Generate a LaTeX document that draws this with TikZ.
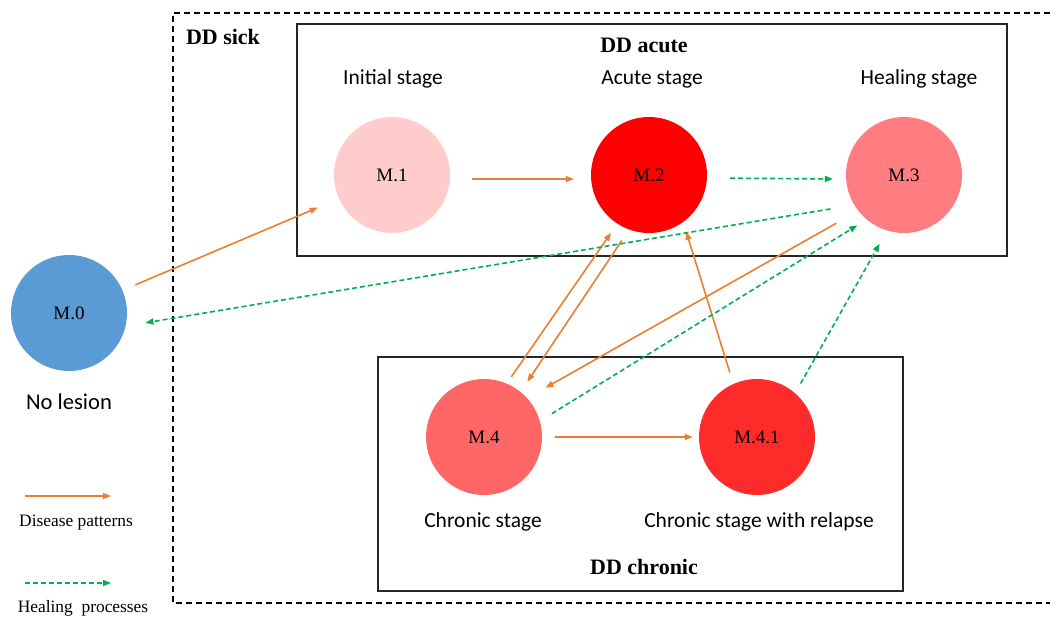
\documentclass[tikz,border=0pt]{standalone}
\usepackage{fontspec}
\setmainfont{Liberation Serif}
\newfontfamily\carl{Carlito}
\usetikzlibrary{arrows.meta}
\definecolor{cblue}{HTML}{5B9BD5}
\definecolor{c1}{HTML}{FFCCCC}
\definecolor{c2}{HTML}{FF0000}
\definecolor{c3}{HTML}{FF7C80}
\definecolor{c4}{HTML}{FF6666}
\definecolor{c41}{HTML}{FF2B2B}
\definecolor{corange}{HTML}{ED7D31}
\definecolor{cgreen}{HTML}{00B050}
\tikzset{
  state/.style={circle,minimum size=116pt,inner sep=0pt,font=\fontsize{19}{21}\selectfont},
  lbl/.style={font=\carl\fontsize{21.5}{23}\selectfont},
  ttl/.style={font=\bfseries\fontsize{22}{24}\selectfont},
  dis/.style={draw=corange,line width=1.6pt,-{Triangle[length=8pt,width=6pt]}},
  heal/.style={draw=cgreen,line width=1.6pt,dash pattern=on 5pt off 3pt,-{Triangle[length=8pt,width=6pt]}},
  frame/.style={draw=black!85,line width=1.8pt}
}
\begin{document}
\begin{tikzpicture}[x=1pt,y=-1pt]
\useasboundingbox[fill=white] (0,0) rectangle (1050,619);
% outer dashed frame
\draw[line width=1.6pt,dash pattern=on 6pt off 4pt] (1050,13) -- (173,13) -- (173,603) -- (1050,603);
\node[ttl] (sick) at (223,37) {DD sick};
% boxes
\node[frame,minimum width=710pt,minimum height=232pt,inner sep=0pt] (acute) at (652,140) {};
\node[frame,minimum width=525pt,minimum height=234pt,inner sep=0pt] (chronic) at (640.5,474) {};
\node[ttl] (acutelbl) at (644,45) {DD acute};
\node[ttl] (chroniclbl) at (644,567) {DD chronic};
% states
\node[state,fill=cblue] (m0) at (69,313) {M.0};
\node[state,fill=c1] (m1) at (392,175) {M.1};
\node[state,fill=c2] (m2) at (649,175) {M.2};
\node[state,fill=c3] (m3) at (904,175) {M.3};
\node[state,fill=c4] (m4) at (484,437) {M.4};
\node[state,fill=c41] (m41) at (757,437) {M.4.1};
% labels
\node[lbl] (l1) at (393,79) {Initial stage};
\node[lbl] (l2) at (652,79) {Acute stage};
\node[lbl] (l3) at (919,79) {Healing stage};
\node[font=\carl\fontsize{22.6}{24}\selectfont] (l0) at (69,402) {No lesion};
\node[lbl] (l4) at (483,522) {Chronic stage};
\node[lbl] (l41) at (759,522) {Chronic stage with relapse};
% disease arrows
\draw[dis,shorten <=14pt,shorten >=23pt] (m0.23) -- (m1.204);
\draw[dis,shorten <=22pt,shorten >=17pt] (m1.-4) -- (m2.184);
\draw[dis,shorten <=8pt,shorten >=11pt] (m4.67) -- (m2.237);
\draw[dis,shorten <=13pt,shorten >=12pt] (m2.250) -- (m4.51);
\draw[dis,shorten <=25pt,shorten >=21pt] (m3.218) -- (m4.42);
\draw[dis,shorten <=12pt,shorten >=10pt] (m41.114) -- (m2.306);
\draw[dis,shorten <=13pt,shorten >=6pt] (m4.0) -- (m41.180);
% healing arrows
\draw[heal,shorten <=23pt,shorten >=13pt] (m2.-3) -- (m3.184);
\draw[heal,shorten <=24pt,shorten >=20pt] (m3.211) -- (m0.-13);
\draw[heal,shorten <=14pt,shorten >=11pt] (m4.16) -- (m3.230);
\draw[heal,shorten <=11pt,shorten >=15pt] (m41.49) -- (m3.253);
% legend
\coordinate (la1) at (25,496);
\coordinate (lb1) at (111,496);
\draw[dis] (la1) -- (lb1);
\node[font=\fontsize{17.4}{19}\selectfont] (leg1) at (76,523) {Disease patterns};
\coordinate (la2) at (25,583);
\coordinate (lb2) at (111,583);
\draw[heal] (la2) -- (lb2);
\node[font=\fontsize{17.4}{19}\selectfont] (leg2) at (83,608) {Healing\ \ processes};
\end{tikzpicture}
\end{document}
